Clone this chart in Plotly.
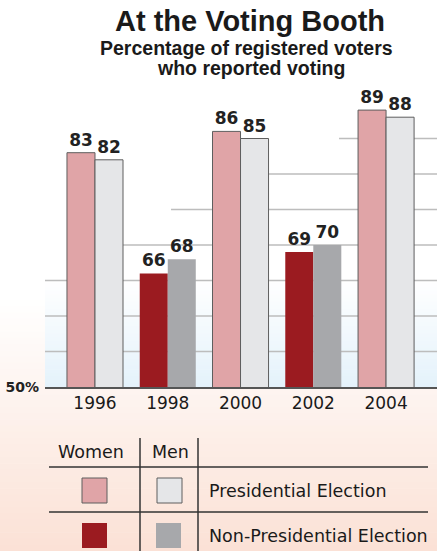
import plotly.graph_objects as go

# ---------------- data ----------------
years = ["1996", "1998", "2000", "2002", "2004"]
women = [83, 66, 86, 69, 89]
men = [82, 68, 85, 70, 88]
election = ["Presidential", "Non-Presidential", "Presidential", "Non-Presidential", "Presidential"]
grid_values = [55, 60, 65, 70, 75, 80, 85]
grid_start = [-0.687, -0.687, -0.687, 0.385, 1.045, 1.61, 3.354]  # staircase start (category units)

# ---------------- style ----------------
C_W_PRES = "#E0A4A7"
C_M_PRES = "#E5E6E8"
C_W_NON = "#9B1B20"
C_M_NON = "#A7A8AB"
OUTLINE = "#5E5E5E"

W_PX, H_PX = 437, 551
PL, PR, PT, PB = 45, 437, 90, 387
PW, PH = PR - PL, PB - PT
XR = [-0.687, 4.70]
YR = [50, 50 + PH / 7.1]


def px(x):
    return (x - PL) / PW


def py(y):
    return (PB - y) / PH


def lerp(c1, c2, t):
    a = [int(c1[i:i + 2], 16) for i in (1, 3, 5)]
    b = [int(c2[i:i + 2], 16) for i in (1, 3, 5)]
    return "rgb(%d,%d,%d)" % tuple(round(a[k] + (b[k] - a[k]) * t) for k in range(3))


w_colors = [C_W_PRES if e == "Presidential" else C_W_NON for e in election]
m_colors = [C_M_PRES if e == "Presidential" else C_M_NON for e in election]
line_w = [1 if e == "Presidential" else 0 for e in election]

label_font = dict(family="DejaVu Sans", size=17, color="#222222", weight="bold")

fig = go.Figure()
fig.add_trace(go.Bar(
    x=years, y=women, name="Women",
    marker=dict(color=w_colors, line=dict(color=OUTLINE, width=line_w)),
    text=[str(v) for v in women], textposition="outside", textfont=label_font,
    cliponaxis=False, constraintext="none",
))
fig.add_trace(go.Bar(
    x=years, y=men, name="Men",
    marker=dict(color=m_colors, line=dict(color=OUTLINE, width=line_w)),
    text=[str(v) for v in men], textposition="outside", textfont=label_font,
    cliponaxis=False, constraintext="none",
))

shapes = []
# pink page gradient
N = 40
y0, y1 = 300, 551
for i in range(N):
    a = y0 + (y1 - y0) * i / N
    b = y0 + (y1 - y0) * (i + 1) / N + 0.6
    shapes.append(dict(type="rect", xref="paper", yref="paper",
                       x0=px(0), x1=px(W_PX), y0=py(b), y1=py(a),
                       fillcolor=lerp("#FFFFFF", "#FBE1D5", (i + 0.5) / N),
                       line=dict(width=0), layer="below"))
# blue plot gradient
N2 = 30
y0, y1 = 280, 387
for i in range(N2):
    a = y0 + (y1 - y0) * i / N2
    b = y0 + (y1 - y0) * (i + 1) / N2 + 0.6
    shapes.append(dict(type="rect", xref="paper", yref="paper",
                       x0=0, x1=1, y0=py(min(b, 387)), y1=py(a),
                       fillcolor=lerp("#FFFFFF", "#E4F2FB", (i + 0.5) / N2),
                       line=dict(width=0), layer="below"))
# staircase gridlines
for v, s in zip(grid_values, grid_start):
    shapes.append(dict(type="line", xref="x", yref="y", x0=s, x1=XR[1], y0=v, y1=v,
                       line=dict(color="#BDBDBD", width=1.3), layer="below"))

# legend table
TBL = "#333333"
for x in (140, 198):
    shapes.append(dict(type="line", xref="paper", yref="paper",
                       x0=px(x), x1=px(x), y0=py(438), y1=py(551),
                       line=dict(color=TBL, width=1.5)))
for y in (467, 512):
    shapes.append(dict(type="line", xref="paper", yref="paper",
                       x0=px(49), x1=px(428), y0=py(y), y1=py(y),
                       line=dict(color=TBL, width=1.5)))
swatches = [
    (82, 478, C_W_PRES, 1), (157, 478, C_M_PRES, 1),
    (82, 523, C_W_NON, 0), (156, 523, C_M_NON, 0),
]
for x, y, c, lw in swatches:
    shapes.append(dict(type="rect", xref="paper", yref="paper",
                       x0=px(x), x1=px(x + 25), y0=py(y + 25), y1=py(y),
                       fillcolor=c, line=dict(color=OUTLINE, width=lw)))

annotations = []
TF = "Liberation Sans"
annotations.append(dict(text="At the Voting Booth", x=px(250), y=py(21), xref="paper", yref="paper",
                        showarrow=False, xanchor="center", yanchor="middle",
                        font=dict(family=TF, size=29, color="#1a1a1a", weight="bold")))
annotations.append(dict(text="Percentage of registered voters", x=px(246), y=py(48), xref="paper", yref="paper",
                        showarrow=False, xanchor="center", yanchor="middle",
                        font=dict(family=TF, size=19.5, color="#1a1a1a", weight="bold")))
annotations.append(dict(text="who reported voting", x=px(251), y=py(68), xref="paper", yref="paper",
                        showarrow=False, xanchor="center", yanchor="middle",
                        font=dict(family=TF, size=19.5, color="#1a1a1a", weight="bold")))

LF = dict(family="DejaVu Sans", size=17.5, color="#1a1a1a")
for txt, x, y, anc in [("Women", 91, 452, "center"), ("Men", 170, 452, "center"),
                       ("Presidential Election", 207, 491, "left"),
                       ("Non-Presidential Election", 207, 536, "left")]:
    annotations.append(dict(text=txt, x=px(x), y=py(y), xref="paper", yref="paper",
                            showarrow=False, xanchor=anc, yanchor="middle", font=LF))

fig.update_layout(
    width=W_PX, height=H_PX,
    margin=dict(l=PL, r=W_PX - PR, t=PT, b=H_PX - PB, pad=0),
    paper_bgcolor="#FFFFFF", plot_bgcolor="rgba(0,0,0,0)",
    barmode="group", bargap=0.23, bargroupgap=0,
    showlegend=False,
    shapes=shapes, annotations=annotations,
)
fig.update_xaxes(type="category", range=XR, showgrid=False, zeroline=False,
                 showline=True, linecolor="#555555", linewidth=1.5, ticks="",
                 tickfont=dict(family="DejaVu Sans", size=17, color="#1a1a1a"))
fig.update_yaxes(range=YR, showgrid=False, zeroline=False, showline=False,
                 tickvals=[50], ticktext=["50%"], ticks="", ticklabelstandoff=5,
                 tickfont=dict(family="DejaVu Sans", size=14, color="#222222", weight="bold"))

fig.write_html("out.html")
